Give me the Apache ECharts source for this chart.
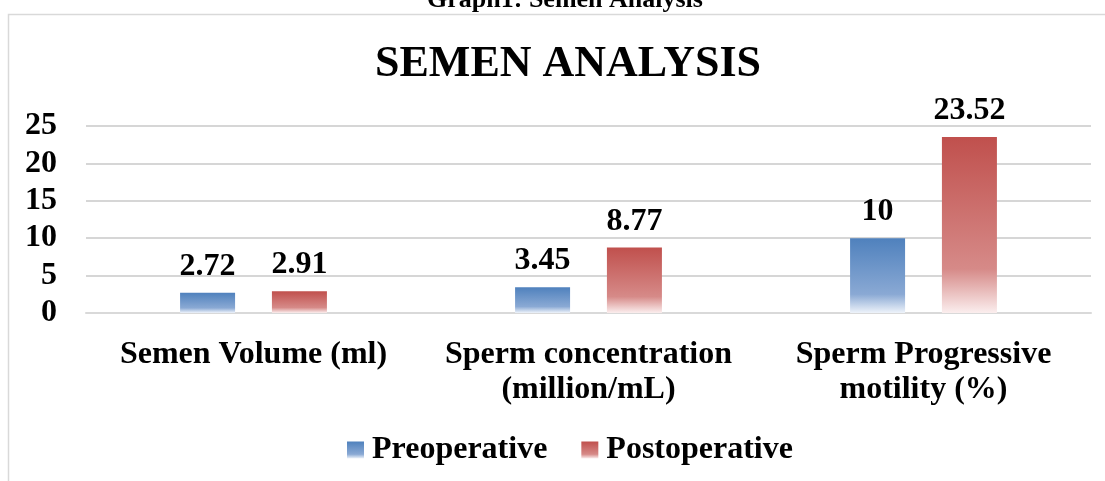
<!DOCTYPE html>
<html>
<head>
<meta charset="utf-8">
<script src="https://cdn.jsdelivr.net/npm/echarts@6/dist/echarts.min.js"></script>
<style>html,body{margin:0;padding:0;background:#fff;}#c{width:1105px;height:481px;}</style>
</head>
<body>
<div id="c"></div>
<script>
const categories = ['Semen Volume (ml)', 'Sperm concentration\n(million/mL)', 'Sperm Progressive\nmotility (%)'];
const preoperative = [2.72, 3.45, 10];
const postoperative = [2.91, 8.77, 23.52];
const yTicks = [0, 5, 10, 15, 20, 25];

const chart = echarts.init(document.getElementById('c'), null, {renderer: 'canvas'});
const serif = '"Liberation Serif", "Times New Roman", serif';
function grad(top, mid, bottom) {
  return new echarts.graphic.LinearGradient(0, 0, 0, 1, [
    {offset: 0, color: top},
    {offset: 0.75, color: mid},
    {offset: 1, color: bottom}
  ]);
}
chart.setOption({
  animation: false,
  backgroundColor: '#fff',
  title: {
    text: 'SEMEN ANALYSIS',
    left: 563, textAlign: 'center', top: 38,
    textStyle: {fontFamily: serif, fontWeight: 'bold', fontSize: 44, color: '#000'}
  },
  graphic: [
    {type: 'rect', shape: {x: 8.5, y: 14.5, width: 1200, height: 600}, style: {fill: 'none', stroke: '#d9d9d9', lineWidth: 1.5}, silent: true, z: -1},
    {type: 'text', style: {text: 'Graph1: Semen Analysis', x: 565, y: 13, textAlign: 'center', textVerticalAlign: 'bottom', font: 'bold 26px ' + serif, fill: '#000'}}
  ],
  legend: {
    top: 429, left: 342,
    itemWidth: 17, itemHeight: 17, itemGap: 34,
    icon: 'rect',
    textStyle: {fontFamily: serif, fontWeight: 'bold', fontSize: 32, color: '#000', padding: [0, 0, 0, 3]},
    data: ['Preoperative', 'Postoperative']
  },
  grid: {left: 86, right: 14, top: 126, bottom: 168, containLabel: false},
  xAxis: {
    type: 'category', data: categories,
    axisLine: {show: true, lineStyle: {color: '#d9d9d9', width: 2}},
    axisTick: {show: false},
    axisLabel: {fontFamily: serif, fontWeight: 'bold', fontSize: 32, color: '#000', lineHeight: 35, margin: 24, interval: 0}
  },
  yAxis: {
    type: 'value', min: 0, max: 25, interval: 5,
    axisLine: {show: false}, axisTick: {show: false},
    splitLine: {lineStyle: {color: '#d6d6d6', width: 2}},
    axisLabel: {fontFamily: serif, fontWeight: 'bold', fontSize: 32, color: '#000', margin: 29,
      formatter: v => yTicks.includes(v) ? String(v) : ''}
  },
  series: [
    {
      name: 'Preoperative', type: 'bar', data: preoperative,
      barWidth: 55, barGap: '67%', barCategoryGap: '56%',
      itemStyle: {color: grad('#4f81bd', '#8aa9d4', '#eef3fa')},
      label: {show: true, position: 'top', distance: 10, fontFamily: serif, fontWeight: 'bold', fontSize: 32, color: '#000'}
    },
    {
      name: 'Postoperative', type: 'bar', data: postoperative,
      barWidth: 55, barGap: '67%', barCategoryGap: '56%',
      itemStyle: {color: grad('#c0504d', '#d68a88', '#fbeeee')},
      label: {show: true, position: 'top', distance: 10, fontFamily: serif, fontWeight: 'bold', fontSize: 32, color: '#000'}
    }
  ]
});
</script>
</body>
</html>
